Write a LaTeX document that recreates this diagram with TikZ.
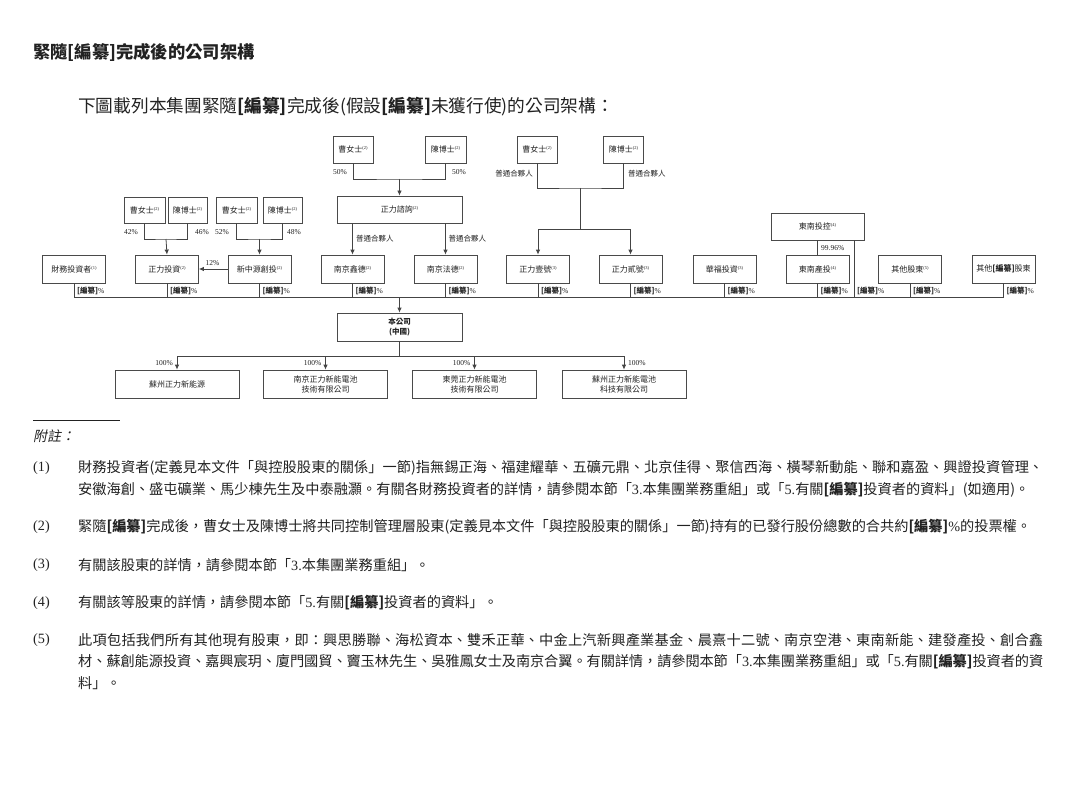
\documentclass[tikz,border=0pt]{standalone}
\usepackage{fontspec}
\setmainfont{Noto Sans CJK TC}
\newfontfamily\lat{Liberation Serif}
\newfontfamily\cjkit{Noto Sans CJK TC}[FakeSlant=0.2]
\usetikzlibrary{arrows.meta}
\XeTeXlinebreaklocale "zh"
\XeTeXlinebreakskip=0pt plus 1pt minus 0.6pt
\definecolor{ink}{HTML}{222222}
\definecolor{linec}{HTML}{444444}
\definecolor{boxc}{HTML}{4A4A4A}
\newcommand\fnm[1]{\raisebox{0.6ex}{\fontsize{4.5}{5}\selectfont\lat(#1)}}
\newcommand\bz{\textbf{[編纂]}}
\newcommand\pct{\bz{\lat\%}}
\tikzset{
  orgbox/.style={draw=boxc, line width=0.8pt, minimum height=27pt, inner sep=0pt,
    font=\fontsize{8}{9}\selectfont, text=ink, align=center},
  conn/.style={draw=linec, line width=0.8pt},
  arr/.style={conn, -{Latex[length=5pt,width=4.5pt]}},
  lbl/.style={inner sep=0pt, font=\fontsize{7.5}{8}\selectfont, text=ink},
  pc/.style={lbl, font=\fontsize{7.5}{8}\selectfont\lat},
  body/.style={inner sep=0pt, anchor=west, text=ink, font=\fontsize{14.2}{17}\selectfont},
  jline/.style={body, text width=965pt, align=justify},
  num/.style={inner sep=0pt, anchor=west, text=ink, font=\fontsize{14.2}{17}\selectfont\lat}
}
\begin{document}
\begin{tikzpicture}[x=1pt,y=-1pt]
\useasboundingbox[fill=white] (0,0) rectangle (1080,789);

% headings
\node[inner sep=0pt, anchor=west, text=ink, font=\fontsize{17.3}{19}\selectfont\bfseries] (title) at (33,52) {緊隨[編纂]完成後的公司架構};
\node[inner sep=0pt, anchor=west, text=ink, font=\fontsize{17.7}{20}\selectfont] (intro) at (78,107) {下圖載列本集團緊隨\bz 完成後(假設\bz 未獲行使)的公司架構：};

% ---- top row
\node[orgbox, minimum width=40pt] (a1) at (353,149.5) {曹女士\fnm{2}};
\node[orgbox, minimum width=41pt] (a2) at (445.5,149.5) {陳博士\fnm{2}};
\node[orgbox, minimum width=40pt] (b1) at (537,149.5) {曹女士\fnm{2}};
\node[orgbox, minimum width=40pt] (b2) at (623.5,149.5) {陳博士\fnm{2}};
\node[orgbox, minimum width=125pt] (c) at (399.5,209.5) {正力諮詢\fnm{2}};

% ---- second row of shareholders
\node[orgbox, minimum width=41pt, minimum height=26pt] (d1) at (144.5,210) {曹女士\fnm{2}};
\node[orgbox, minimum width=39pt, minimum height=26pt] (d2) at (187.5,210) {陳博士\fnm{2}};
\node[orgbox, minimum width=41pt, minimum height=26pt] (d3) at (236.5,210) {曹女士\fnm{2}};
\node[orgbox, minimum width=39pt, minimum height=26pt] (d4) at (282.5,210) {陳博士\fnm{2}};
\node[orgbox, minimum width=93pt] (e) at (817.5,226.5) {東南投控\fnm{4}};

% ---- holding row
\foreach \n/\x/\t in {r1/74/財務投資者\fnm{1}, r2/167/正力投資\fnm{2}, r3/259.5/新中源創投\fnm{2},
  r4/352.5/南京鑫德\fnm{2}, r5/445.5/南京法德\fnm{2}, r6/538/正力壹號\fnm{3}, r7/630.5/正力貳號\fnm{3},
  r8/724.5/華福投資\fnm{3}, r9/817.5/東南產投\fnm{4}, r10/910/其他股東\fnm{5}, r11/1003.5/其他\textbf{[編纂]}股東}
  {\node[orgbox, minimum width=63pt, minimum height=28pt] (\n) at (\x,269) {\t};}

% ---- company and subsidiaries
\node[orgbox, minimum width=125pt, minimum height=28pt, font=\fontsize{7.5}{10}\selectfont\bfseries] (co) at (399.5,327) {本公司\\(中國)};
\node[orgbox, minimum width=124pt, minimum height=28pt] (s1) at (177,384) {蘇州正力新能源};
\node[orgbox, minimum width=124pt, minimum height=28pt, font=\fontsize{8}{10}\selectfont] (s2) at (325.5,384) {南京正力新能電池\\技術有限公司};
\node[orgbox, minimum width=124pt, minimum height=28pt, font=\fontsize{8}{10}\selectfont] (s3) at (474.5,384) {東莞正力新能電池\\技術有限公司};
\node[orgbox, minimum width=124pt, minimum height=28pt, font=\fontsize{8}{10}\selectfont] (s4) at (624,384) {蘇州正力新能電池\\科技有限公司};

% ---- connectors: top left
\coordinate (ja) at (399.5,179);
\draw[conn] (a1.south) |- (ja) -| (a2.south);
\draw[arr] (ja) -- (c.north);
\node[pc, anchor=west] (pa1) at (333,172) {50\%};
\node[pc, anchor=east] (pa2) at (466,172) {50\%};

% top right
\coordinate (jb) at (580.25,188);
\coordinate (jb2) at (580.25,229);
\draw[conn] (b1.south) |- (jb) -| (b2.south);
\draw[conn] (jb) -- (jb2);
\draw[arr] (jb2) -| (r6.north);
\draw[arr] (jb2) -| (r7.north);
\node[lbl, anchor=east] (gp1) at (533,174) {普通合夥人};
\node[lbl, anchor=west] (gp2) at (628,174) {普通合夥人};

% from 正力諮詢
\draw[arr] (c.south -| r4.north) -- (r4.north);
\draw[arr] (c.south -| r5.north) -- (r5.north);
\node[lbl, anchor=west] (gp3) at (356,239) {普通合夥人};
\node[lbl, anchor=west] (gp4) at (448.5,239) {普通合夥人};

% second-row shareholders
\coordinate (jd) at (166,239);
\coordinate (je) at (259.5,239);
\draw[conn] (d1.south) |- (jd) -| (d2.south);
\draw[arr] (jd) -- (r2.north);
\draw[conn] (d3.south) |- (je) -| (d4.south);
\draw[arr] (je) -- (r3.north);
\node[pc, anchor=west] (p42) at (124,232) {42\%};
\node[pc, anchor=east] (p46) at (209,232) {46\%};
\node[pc, anchor=west] (p52) at (215,232) {52\%};
\node[pc, anchor=east] (p48) at (301,232) {48\%};
\draw[arr] (r3.west) -- (r2.east);
\node[pc] (p12) at (212.5,263) {12\%};

% 東南投控
\draw[conn] (e.south) -- (r9.north);
\node[pc, anchor=west] (p9996) at (821,248) {99.96\%};
\coordinate (ex) at (854,240);

% main bus
\coordinate (busL) at (74,297);
\coordinate (busR) at (1003.5,297);
\draw[conn] (busL) -- (busR);
\foreach \n in {r1,r2,r3,r4,r5,r6,r7,r8,r9,r10,r11}{
  \draw[conn] (\n.south) -- (\n.south |- busL);
  \node[lbl, anchor=west, xshift=3pt] at (\n.south |- 0,291) {\pct};
}
\draw[conn] (ex) -- (ex |- busL);
\node[lbl, anchor=west] (pex) at (857,291) {\pct};
\draw[arr] (co.north |- busL) -- (co.north);

% subsidiaries
\coordinate (bus2) at (399.5,356);
\draw[conn] (co.south) -- (bus2);
\draw[conn] (s1.north |- bus2) -- (s4.north |- bus2);
\foreach \n in {s1,s2,s3,s4}{\draw[arr] (\n.north |- bus2) -- (\n.north);}
\node[pc, anchor=east] (q1) at (173,363) {100\%};
\node[pc, anchor=east] (q2) at (321.5,363) {100\%};
\node[pc, anchor=east] (q3) at (470.5,363) {100\%};
\node[pc, anchor=west] (q4) at (628,363) {100\%};

% ---- notes
\draw[draw=ink, line width=0.6pt] (33,420) -- (120,420);
\node[inner sep=0pt, anchor=west, text=ink, font=\fontsize{14}{16}\cjkit] (notes) at (33,436) {附註：};

\node[num] (n1) at (33,468) {(1)};
\node[jline] (l1a) at (78,468) {財務投資者(定義見本文件「與控股股東的關係」一節)指無錫正海、福建耀華、五礦元鼎、北京佳得、聚信西海、橫琴新動能、聯和嘉盈、興證投資管理、\parfillskip=0pt\par};
\node[body] (l1b) at (78,490) {安徽海創、盛屯礦業、馬少棟先生及中泰融灝。有關各財務投資者的詳情，請參閱本節「{\lat 3.}本集團業務重組」或「{\lat 5.}有關\bz 投資者的資料」(如適用)。};

\node[num] (n2) at (33,527) {(2)};
\node[body] (l2) at (78,527) {緊隨\bz 完成後，曹女士及陳博士將共同控制管理層股東(定義見本文件「與控股股東的關係」一節)持有的已發行股份總數的合共約\bz{\lat\%}的投票權。};

\node[num] (n3) at (33,565) {(3)};
\node[body] (l3) at (78,565) {有關該股東的詳情，請參閱本節「{\lat 3.}本集團業務重組」。};

\node[num] (n4) at (33,603) {(4)};
\node[body] (l4) at (78,603) {有關該等股東的詳情，請參閱本節「{\lat 5.}有關\bz 投資者的資料」。};

\node[num] (n5) at (33,640) {(5)};
\node[jline] (l5a) at (78,640) {此項包括我們所有其他現有股東，即：興思勝聯、海松資本、雙禾正華、中金上汽新興產業基金、晨熹十二號、南京空港、東南新能、建發產投、創合鑫\parfillskip=0pt\par};
\node[jline] (l5b) at (78,662) {材、蘇創能源投資、嘉興宸玥、廈門國貿、竇玉林先生、吳雅鳳女士及南京合翼。有關詳情，請參閱本節「{\lat 3.}本集團業務重組」或「{\lat 5.}有關\bz 投資者的資\parfillskip=0pt\par};
\node[body] (l5c) at (78,683) {料」。};
\end{tikzpicture}
\end{document}
